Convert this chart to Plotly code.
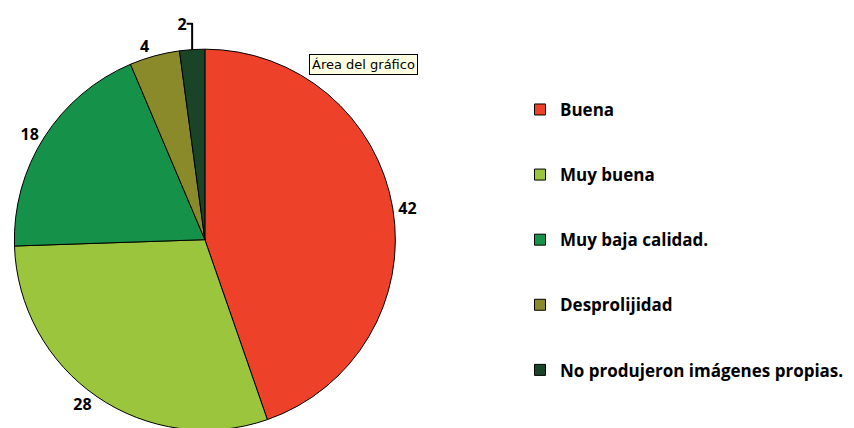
import plotly.graph_objects as go

# --------------------------------------------------
# Data
# --------------------------------------------------

categories = [
    "Buena",
    "Muy buena",
    "Muy baja calidad.",
    "Desprolijidad",
    "No produjeron imágenes propias.",
]
values = [42, 28, 18, 4, 2]
colors = ["#EE4129", "#9BC53D", "#15914A", "#8B8A2B", "#1A4428"]

FONT = "Open Sans"
W, H = 854, 428
OFF = 8  # page body margin


def px_x(p):
    return (p - OFF) / W


def px_y(p):
    return 1 - (p - OFF) / H


fig = go.Figure()

fig.add_trace(go.Pie(
    labels=categories,
    values=values,
    sort=False,
    direction="clockwise",
    rotation=0,
    marker=dict(colors=colors, line=dict(color="#000000", width=1)),
    textinfo="value",
    textposition="outside",
    textfont=dict(family=FONT, size=16, color="#000000", weight="bold"),
    domain=dict(x=[px_x(8), px_x(394)], y=[px_y(430), px_y(38)]),
    showlegend=False,
    hoverinfo="skip",
))

# legend entries (one group each so they can be spaced out)
for i, (name, col) in enumerate(zip(categories, colors)):
    fig.add_trace(go.Scatter(
        x=[None],
        y=[None],
        mode="markers",
        name=name,
        legendgroup=str(i),
        marker=dict(symbol="square", size=11, color=col,
                    line=dict(color="#000000", width=1)),
    ))

fig.add_annotation(
    text="Área del gráfico",
    x=px_x(306),
    y=px_y(43),
    xref="paper",
    yref="paper",
    xanchor="left",
    yanchor="top",
    showarrow=False,
    font=dict(family="DejaVu Sans", size=13, color="#000000"),
    bgcolor="#FFFFE1",
    bordercolor="#000000",
    borderwidth=1,
    borderpad=2,
)

fig.update_layout(
    width=W,
    height=H,
    margin=dict(l=0, r=0, t=0, b=0),
    paper_bgcolor="#FFFFFF",
    plot_bgcolor="#FFFFFF",
    xaxis=dict(visible=False),
    yaxis=dict(visible=False),
    legend=dict(
        x=px_x(518),
        y=px_y(82),
        xanchor="left",
        yanchor="top",
        tracegroupgap=40,
        font=dict(family=FONT, size=17, color="#000000", weight="bold"),
        itemclick=False,
    ),
)

fig.write_html("out.html")
